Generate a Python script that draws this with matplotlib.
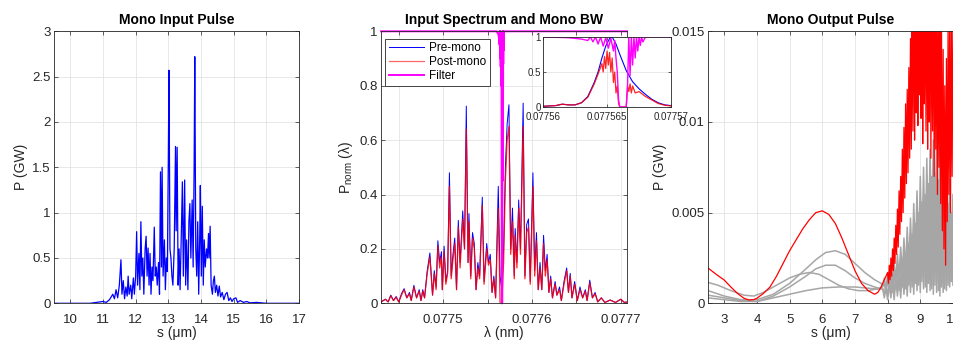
import matplotlib
matplotlib.use("Agg")
import matplotlib.pyplot as plt

plt.rcParams['font.family'] = ['Liberation Sans', 'DejaVu Sans']
plt.rcParams['mathtext.fontset'] = 'custom'
plt.rcParams['mathtext.rm'] = 'Liberation Sans'
plt.rcParams['mathtext.it'] = 'Liberation Sans:italic'

# ---- panel 1: mono input pulse (s in um, P in GW) ----
in_s = [9.5, 10.6, 10.8, 11.0, 11.1, 11.2, 11.3, 11.35, 11.4, 11.45, 11.5, 11.55, 11.58, 11.62,
        11.66, 11.7, 11.74, 11.77, 11.8, 11.85, 11.88, 11.93, 11.96, 12.0, 12.03, 12.06, 12.1,
        12.13, 12.16, 12.19, 12.22, 12.25, 12.29, 12.32, 12.35, 12.38, 12.41, 12.44, 12.47, 12.5,
        12.53, 12.57, 12.6, 12.63, 12.66, 12.7, 12.73, 12.76, 12.79, 12.81, 12.84, 12.88, 12.91,
        12.94, 12.97, 13.0, 13.02, 13.05, 13.08, 13.11, 13.14, 13.18, 13.22, 13.24, 13.27, 13.3,
        13.33, 13.36, 13.4, 13.43, 13.46, 13.5, 13.53, 13.56, 13.6, 13.63, 13.66, 13.69, 13.73,
        13.76, 13.79, 13.81, 13.84, 13.87, 13.9, 13.93, 13.96, 13.98, 14.01, 14.04, 14.07, 14.1,
        14.13, 14.17, 14.2, 14.23, 14.25, 14.28, 14.31, 14.35, 14.38, 14.41, 14.44, 14.48, 14.52,
        14.56, 14.6, 14.65, 14.7, 14.75, 14.8, 14.85, 14.9, 14.95, 15.0, 15.07, 15.12, 15.2, 15.3,
        15.4, 15.5, 15.7, 16.0, 17.0]
in_p = [0, 0, 0.01, 0.02, 0.01, 0.04, 0.1, 0.05, 0.15, 0.06, 0.2, 0.48, 0.1, 0.25,
        0.05, 0.18, 0.08, 0.3, 0.1, 0.2, 0.05, 0.28, 0.1, 0.3, 0.79, 0.2, 0.55,
        0.15, 0.9, 0.3, 0.5, 0.1, 0.6, 0.74, 0.3, 0.61, 0.2, 0.55, 0.1, 0.4,
        0.25, 0.84, 0.3, 0.4, 0.2, 0.45, 0.1, 1.45, 0.4, 1.5, 0.3, 0.7, 0.15,
        0.5, 0.35, 1.6, 2.57, 0.6, 0.5, 0.3, 0.2, 0.6, 1.73, 0.8, 1.72, 0.2,
        0.6, 0.15, 0.8, 1.34, 0.3, 1.36, 0.2, 0.7, 0.15, 0.9, 1.1, 0.5, 1.14,
        0.4, 1.5, 2.72, 0.6, 0.3, 0.9, 0.1, 0.7, 1.3, 0.3, 1.07, 0.2, 0.7,
        0.4, 0.6, 0.5, 0.77, 0.5, 0.85, 0.2, 0.1, 0.25, 0.3, 0.12, 0.2, 0.08,
        0.19, 0.07, 0.12, 0.04, 0.1, 0.12, 0.03, 0.06, 0.02, 0.05, 0.06, 0.01, 0.03, 0.01,
        0.02, 0.005, 0.01, 0, 0]

# ---- panel 2: spectrum (lambda in nm) ----
lam = [0.077430, 0.077435, 0.077438, 0.077441, 0.077444, 0.077447, 0.077450, 0.077453, 0.077456,
       0.077459, 0.077462, 0.077464, 0.077467, 0.077470, 0.077473, 0.077475, 0.077477, 0.077479,
       0.077482, 0.077485, 0.077488, 0.077490, 0.077492, 0.077494, 0.077496, 0.077498, 0.077499,
       0.077501, 0.077503, 0.077505, 0.077507, 0.077509, 0.077511, 0.077513, 0.077515, 0.077517,
       0.077519, 0.077522, 0.077524, 0.077526, 0.077528, 0.077529, 0.077531, 0.077533, 0.077535,
       0.077537, 0.077539, 0.077541, 0.077544, 0.077546, 0.077549, 0.077551, 0.077553, 0.077555,
       0.077557, 0.077559, 0.077562, 0.077564, 0.077566, 0.077568, 0.077570, 0.077572, 0.077574,
       0.077576, 0.077578, 0.077580, 0.077581, 0.077583, 0.077585, 0.077587, 0.077590, 0.077592,
       0.077594, 0.077596, 0.077598, 0.077601, 0.077603, 0.077605, 0.077607, 0.077609, 0.077611,
       0.077613, 0.077615, 0.077617, 0.077619, 0.077621, 0.077623, 0.077626, 0.077628, 0.077631,
       0.077633, 0.077636, 0.077639, 0.077641, 0.077643, 0.077645, 0.077648, 0.077651, 0.077654,
       0.077657, 0.077660, 0.077662, 0.077665, 0.077668, 0.077671, 0.077674, 0.077678, 0.077682,
       0.077688, 0.077694, 0.077700, 0.077704, 0.077707]
pre_mono = [0.005, 0.015, 0.005, 0.03, 0.01, 0.025, 0.005, 0.035, 0.054,
            0.02, 0.04, 0.01, 0.066, 0.02, 0.05, 0.01, 0.05, 0.02,
            0.12, 0.185, 0.03, 0.12, 0.06, 0.23, 0.15, 0.19, 0.05,
            0.21, 0.08, 0.12, 0.48, 0.10, 0.18, 0.24, 0.05, 0.305,
            0.15, 0.34, 0.2, 0.725, 0.15, 0.33, 0.10, 0.26, 0.22,
            0.05, 0.15, 0.1, 0.39, 0.08, 0.22, 0.15, 0.18, 0.04,
            0.1, 0.02, 0.43, 0.1, 0.05, 0.2, 0.5, 0.66, 0.73,
            0.2, 0.35, 0.1, 0.275, 0.15, 0.38, 0.2, 0.736, 0.1,
            0.29, 0.31, 0.08, 0.48, 0.12, 0.26, 0.05, 0.15, 0.05,
            0.25, 0.12, 0.18, 0.04, 0.1, 0.02, 0.08, 0.03, 0.06,
            0.01, 0.08, 0.13, 0.04, 0.11, 0.02, 0.08, 0.01, 0.06,
            0.02, 0.05, 0.01, 0.085, 0.02, 0.04, 0.005, 0.02, 0.003,
            0.012, 0.003, 0.015, 0.003, 0.005]
post_mono = [0.005, 0.015, 0.005, 0.028, 0.01, 0.022, 0.005, 0.03, 0.05,
             0.02, 0.035, 0.01, 0.06, 0.02, 0.045, 0.01, 0.045, 0.02,
             0.11, 0.17, 0.03, 0.11, 0.05, 0.21, 0.13, 0.17, 0.05,
             0.19, 0.07, 0.11, 0.43, 0.09, 0.16, 0.22, 0.05, 0.28,
             0.13, 0.31, 0.2, 0.64, 0.15, 0.30, 0.09, 0.24, 0.2,
             0.05, 0.13, 0.09, 0.36, 0.07, 0.2, 0.14, 0.16, 0.04,
             0.09, 0.02, 0.35, 0.0, 0.0, 0.15, 0.45, 0.60, 0.65,
             0.18, 0.3, 0.09, 0.25, 0.13, 0.35, 0.18, 0.65, 0.09,
             0.26, 0.28, 0.07, 0.43, 0.1, 0.23, 0.05, 0.13, 0.05,
             0.22, 0.1, 0.16, 0.04, 0.09, 0.02, 0.07, 0.03, 0.05,
             0.01, 0.07, 0.12, 0.04, 0.1, 0.02, 0.07, 0.01, 0.05,
             0.02, 0.045, 0.01, 0.075, 0.02, 0.035, 0.005, 0.02, 0.003,
             0.012, 0.003, 0.015, 0.003, 0.005]

# mono filter transmission
filt_lam = [0.077430, 0.077560, 0.077562, 0.077563, 0.0775635, 0.0775637, 0.0775639, 0.0775641,
            0.0775643, 0.0775645, 0.0775647, 0.0775649, 0.0775651, 0.0775653, 0.0775655, 0.0775656,
            0.0775657, 0.0775658, 0.0775659, 0.0775660, 0.0775665, 0.0775666, 0.0775667, 0.0775668,
            0.0775669, 0.0775670, 0.0775671, 0.0775672, 0.0775673, 0.0775674, 0.0775675, 0.0775676,
            0.0775677, 0.0775678, 0.0775680, 0.077707]
filt_t = [1, 1, 0.99, 0.97, 0.95, 1.0, 0.93, 1.0,
          0.9, 1.0, 0.87, 0.99, 0.84, 0.98, 0.8, 0.95,
          0.7, 0.5, 0.1, 0.0, 0.0, 0.3, 1.0, 0.45,
          1.0, 0.6, 1.0, 0.7, 1.0, 0.8, 1.0, 0.88,
          1.0, 0.93, 1.0, 1]

# zoomed spectral line for the inset
ins_lam = [0.077560, 0.077561, 0.0775615, 0.077562, 0.0775625, 0.077563, 0.0775635, 0.077564,
           0.0775643, 0.0775646, 0.0775649, 0.0775652, 0.0775654, 0.0775657, 0.077566, 0.0775665,
           0.077567, 0.0775675, 0.077568, 0.0775685, 0.077569, 0.0775695, 0.077570]
ins_pre = [0.01, 0.02, 0.04, 0.03, 0.03, 0.06, 0.15, 0.35,
           0.5, 0.7, 0.87, 0.98, 1.0, 0.9, 0.75, 0.52,
           0.36, 0.26, 0.18, 0.11, 0.06, 0.03, 0.02]
ins_post_lam = [0.077560, 0.077561, 0.0775615, 0.077562, 0.0775625, 0.077563, 0.0775635, 0.077564,
                0.0775643, 0.0775646, 0.0775647, 0.0775648, 0.0775649, 0.077565, 0.0775651,
                0.0775652, 0.0775653, 0.0775654, 0.0775655, 0.0775656, 0.0775657, 0.0775658,
                0.0775659, 0.077566, 0.0775665, 0.0775666, 0.0775667, 0.0775668, 0.0775669,
                0.077567, 0.0775672, 0.0775675, 0.077568, 0.0775685, 0.077569, 0.0775695, 0.07757]
ins_post = [0.01, 0.02, 0.04, 0.03, 0.03, 0.06, 0.14, 0.33,
            0.47, 0.62, 0.5, 0.72, 0.55, 0.8, 0.6,
            0.78, 0.5, 0.7, 0.35, 0.5, 0.2, 0.3,
            0.05, 0.0, 0.0, 0.3, 0.22, 0.33, 0.2,
            0.3, 0.2, 0.22, 0.15, 0.1, 0.05, 0.025, 0.015]

# ---- panel 3: mono output pulse ----
red_s = [2.5, 2.75, 3.0, 3.2, 3.4, 3.6, 3.75, 3.9, 4.0, 4.2, 4.4, 4.6, 4.8, 5.0, 5.2, 5.4, 5.6,
         5.8, 6.0, 6.2, 6.4, 6.6, 6.8, 7.0, 7.2, 7.4, 7.5, 7.6, 7.7, 7.8, 7.9,
         8.000, 8.025, 8.050, 8.075, 8.100, 8.125, 8.150, 8.175, 8.200, 8.225, 8.250, 8.275,
         8.300, 8.325, 8.350, 8.375, 8.400, 8.425, 8.450, 8.475, 8.500, 8.525, 8.550, 8.575,
         8.600, 8.625, 8.650, 8.675, 8.700, 8.725, 8.750, 8.775, 8.800, 8.825, 8.850, 8.875,
         8.900, 8.925, 8.950, 8.975, 9.000, 9.025, 9.050, 9.075, 9.100, 9.125, 9.150, 9.175,
         9.200, 9.225, 9.250, 9.275, 9.300, 9.325, 9.350, 9.375, 9.400, 9.425, 9.450, 9.475,
         9.500, 9.525, 9.550, 9.575, 9.600, 9.625, 9.650, 9.675, 9.700, 9.725, 9.750, 9.775,
         9.800, 9.825, 9.850, 9.875, 9.900, 9.925, 9.950, 9.975, 10.000]
red_p = [0.00195, 0.0016, 0.00128, 0.0009, 0.00055, 0.00028, 0.00018, 0.0002, 0.00028, 0.00055,
         0.0009, 0.0015, 0.0022, 0.0029, 0.0035, 0.0041, 0.0046, 0.0050, 0.0051, 0.0049, 0.0044,
         0.0036, 0.0027, 0.0018, 0.0011, 0.0007, 0.0006, 0.0005, 0.0006, 0.0009, 0.0013,
         0.0017, 0.0011, 0.0021, 0.0013, 0.0025, 0.0015, 0.0030, 0.0018, 0.0036, 0.0022, 0.0043, 0.0027,
         0.0052, 0.0031, 0.0062, 0.0038, 0.0070, 0.0045, 0.0085, 0.0050, 0.0097, 0.0058, 0.0110, 0.0066,
         0.0118, 0.0072, 0.0130, 0.0080, 0.0146, 0.0085, 0.0175, 0.0095, 0.0200, 0.0090, 0.0190, 0.0105,
         0.0210, 0.0098, 0.0185, 0.0115, 0.0200, 0.0102, 0.0190, 0.0088, 0.0210, 0.0110, 0.0180, 0.0095,
         0.0200, 0.0085, 0.0190, 0.0100, 0.0205, 0.0080, 0.0180, 0.0095, 0.0195, 0.0070, 0.0170, 0.0085,
         0.0185, 0.0060, 0.0160, 0.0075, 0.0175, 0.0055, 0.0150, 0.0040, 0.0140, 0.0030, 0.0120, 0.0021,
         0.0135, 0.0045, 0.0150, 0.0060, 0.0165, 0.0050, 0.0155, 0.0070, 0.0160]

tail_s = [7.85, 7.90, 7.95, 8.00, 8.05, 8.10, 8.15, 8.20, 8.25, 8.30, 8.35, 8.40, 8.45, 8.50, 8.55,
          8.60, 8.65, 8.70, 8.75, 8.80, 8.85, 8.90, 8.95, 9.00, 9.05, 9.10, 9.15, 9.20, 9.25, 9.30,
          9.35, 9.40, 9.45, 9.50, 9.55, 9.60, 9.65, 9.70, 9.75, 9.80, 9.85, 9.90, 9.95, 10.00]

g1_s = [2.5, 3.0, 3.5, 4.0, 4.5, 5.0, 5.5, 5.8, 6.1, 6.4, 6.7, 7.0, 7.3, 7.6, 7.8]
g1_p = [0.0007, 0.0004, 0.0002, 0.0002, 0.0005, 0.0011, 0.0019, 0.0024, 0.0028, 0.0029, 0.0027,
        0.0022, 0.0017, 0.0013, 0.0011]
g1_tail = [0.0010, 0.0014, 0.0008, 0.0016, 0.0009, 0.0019, 0.0011, 0.0023, 0.0012, 0.0027, 0.0014,
           0.0031, 0.0016, 0.0036, 0.0018, 0.0042, 0.0020, 0.0047, 0.0022, 0.0055, 0.0025, 0.0062,
           0.0024, 0.0070, 0.0028, 0.0075, 0.0026, 0.0080, 0.0030, 0.0085, 0.0027, 0.0090, 0.0025,
           0.0094, 0.0030, 0.0088, 0.0024, 0.0080, 0.0022, 0.0072, 0.0020, 0.0068, 0.0025, 0.0060]

g2_s = [2.5, 3.0, 3.5, 4.0, 4.5, 5.0, 5.5, 5.8, 6.1, 6.4, 6.7, 7.0, 7.3, 7.6, 7.8]
g2_p = [0.00045, 0.0003, 0.00015, 0.0001, 0.0004, 0.0009, 0.0015, 0.0019, 0.0021, 0.0021, 0.0018,
        0.0014, 0.0011, 0.0009, 0.0008]
g2_tail = [0.0008, 0.0005, 0.0010, 0.0004, 0.0012, 0.0006, 0.0014, 0.0005, 0.0017, 0.0007, 0.0020,
           0.0008, 0.0024, 0.0009, 0.0028, 0.0010, 0.0033, 0.0012, 0.0038, 0.0011, 0.0044, 0.0013,
           0.0050, 0.0012, 0.0056, 0.0014, 0.0060, 0.0011, 0.0066, 0.0013, 0.0070, 0.0010, 0.0072,
           0.0012, 0.0068, 0.0009, 0.0063, 0.0011, 0.0058, 0.0010, 0.0055, 0.0012, 0.0050, 0.0015]

g3_s = [2.5, 2.8, 3.2, 3.6, 3.9, 4.2, 4.6, 5.0, 5.3, 5.6, 5.9, 6.2, 6.5, 6.8, 7.1, 7.4, 7.7]
g3_p = [0.00115, 0.0010, 0.0007, 0.00045, 0.0004, 0.0006, 0.0010, 0.0014, 0.0016, 0.0017, 0.0016,
        0.0013, 0.0010, 0.0008, 0.0007, 0.0007, 0.0008]
g3_tail = [0.0009, 0.0011, 0.0006, 0.0013, 0.0007, 0.0015, 0.0006, 0.0018, 0.0008, 0.0021, 0.0007,
           0.0025, 0.0009, 0.0029, 0.0008, 0.0033, 0.0010, 0.0038, 0.0009, 0.0042, 0.0011, 0.0047,
           0.0010, 0.0053, 0.0012, 0.0058, 0.0009, 0.0063, 0.0011, 0.0068, 0.0008, 0.0074, 0.0010,
           0.0078, 0.0007, 0.0072, 0.0009, 0.0066, 0.0008, 0.0061, 0.0010, 0.0057, 0.0012, 0.0052]

g4_s = [2.5, 3.0, 3.5, 4.0, 4.5, 5.0, 5.5, 6.0, 6.5, 7.0, 7.3, 7.6]
g4_p = [0.0003, 0.0002, 0.0001, 0.0001, 0.0003, 0.0005, 0.0007, 0.00085, 0.0009, 0.0009, 0.00085,
        0.0008]
g4_tail = [0.0008, 0.0003, 0.0009, 0.0002, 0.0010, 0.0003, 0.0012, 0.0002, 0.0013, 0.0004, 0.0015,
           0.0003, 0.0017, 0.0005, 0.0020, 0.0004, 0.0024, 0.0006, 0.0028, 0.0005, 0.0033, 0.0007,
           0.0038, 0.0006, 0.0044, 0.0008, 0.0049, 0.0006, 0.0054, 0.0007, 0.0059, 0.0005, 0.0064,
           0.0006, 0.0060, 0.0004, 0.0055, 0.0006, 0.0050, 0.0007, 0.0046, 0.0009, 0.0043, 0.0010]

# tick labels
ticks1 = [10, 11, 12, 13, 14, 15, 16, 17]
yticks1 = [0, 0.5, 1, 1.5, 2, 2.5, 3]
yticklabels1 = ['0', '0.5', '1', '1.5', '2', '2.5', '3']
ticks2 = [0.07745, 0.0775, 0.07755, 0.0776, 0.07765, 0.0777]
ticklabels2 = ['', '0.0775', '', '0.0776', '', '0.0777']
yticks2 = [0, 0.2, 0.4, 0.6, 0.8, 1]
yticklabels2 = ['0', '0.2', '0.4', '0.6', '0.8', '1']
ticks_in = [0.07756, 0.077565, 0.07757]
ticklabels_in = ['0.07756', '0.077565', '0.07757']
ticks3 = [3, 4, 5, 6, 7, 8, 9, 10]
yticks3 = [0, 0.005, 0.01, 0.015]
yticklabels3 = ['0', '0.005', '0.01', '0.015']

DARK = '0.15'
TICK_FS = 9.5
LABEL_FS = 10
TITLE_FS = 10


def style(ax, fs=TICK_FS, xpad=8, ypad=2.5):
    for sp in ax.spines.values():
        sp.set_color(DARK)
        sp.set_linewidth(0.6)
    ax.tick_params(direction='in', length=3, width=0.5, top=True, right=True,
                   labelsize=fs, colors=DARK)
    ax.tick_params(axis='x', pad=xpad)
    ax.tick_params(axis='y', pad=ypad)
    ax.grid(True, color='0.87', linewidth=0.5)
    ax.set_axisbelow(True)


fig = plt.figure(figsize=(9.54, 3.44), dpi=100)

# panel 1
ax1 = fig.add_axes([0.0566, 0.1183, 0.2568, 0.7907])
ax1.plot(in_s, in_p, color=(0, 0, 1), lw=0.9)
ax1.set_xlim(9.5, 17)
ax1.set_ylim(0, 3)
ax1.set_xticks(ticks1)
ax1.set_yticks(yticks1)
ax1.set_yticklabels(yticklabels1)
style(ax1)
ax1.set_title('Mono Input Pulse', fontsize=TITLE_FS, fontweight='bold', pad=5)
ax1.set_xlabel('s (μm)', fontsize=LABEL_FS, color=DARK, labelpad=0)
ax1.set_ylabel('P (GW)', fontsize=LABEL_FS, color=DARK, labelpad=3)

# panel 2
ax2 = fig.add_axes([0.3994, 0.1183, 0.2579, 0.7907])
ax2.plot(lam, pre_mono, color=(0, 0, 1), lw=0.7, label='Pre-mono')
ax2.plot(lam, post_mono, color=(1, 0, 0), lw=0.9, alpha=0.85, label='Post-mono')
ax2.plot(filt_lam, filt_t, color=(1, 0, 1), lw=1.4, label='Filter', clip_on=False)
ax2.set_xlim(0.07743, 0.077707)
ax2.set_ylim(0, 1)
ax2.set_xticks(ticks2)
ax2.set_xticklabels(ticklabels2)
ax2.set_yticks(yticks2)
ax2.set_yticklabels(yticklabels2)
style(ax2)
ax2.set_title('Input Spectrum and Mono BW', fontsize=TITLE_FS, fontweight='bold', pad=5)
ax2.set_xlabel('λ (nm)', fontsize=LABEL_FS, color=DARK, labelpad=0)
ax2.set_ylabel(r'P$_{\rm norm}$ (λ)', fontsize=LABEL_FS, color=DARK, labelpad=3)
leg = ax2.legend(loc='upper left', bbox_to_anchor=(0.018, 0.972), borderaxespad=0,
                 fontsize=8.5, handlelength=3.0, handletextpad=0.4, labelspacing=0.15,
                 borderpad=0.3, fancybox=False, framealpha=1)
leg.get_frame().set_edgecolor(DARK)
leg.get_frame().set_linewidth(0.6)
leg.get_lines()[1].set_alpha(0.6)

# inset
axi = fig.add_axes([0.5692, 0.689, 0.1342, 0.2035])
axi.plot(ins_lam, ins_pre, color=(0, 0, 1), lw=0.8)
axi.plot(ins_post_lam, ins_post, color=(1, 0, 0), lw=0.9, alpha=0.85)
axi.plot(filt_lam, filt_t, color=(1, 0, 1), lw=1.0)
axi.set_xlim(0.07756, 0.07757)
axi.set_ylim(0, 1)
axi.set_xticks(ticks_in)
axi.set_xticklabels(ticklabels_in)
axi.set_yticks([0, 0.5, 1])
axi.set_yticklabels(['0', '0.5', '1'])
style(axi, fs=7, xpad=3.5, ypad=1.5)
axi.tick_params(length=2)

# panel 3
ax3 = fig.add_axes([0.7421, 0.1183, 0.2568, 0.7907])
gray = (0.65, 0.65, 0.65)
for gs, gp, gt in [(g1_s, g1_p, g1_tail), (g2_s, g2_p, g2_tail),
                   (g3_s, g3_p, g3_tail), (g4_s, g4_p, g4_tail)]:
    ax3.plot(gs + tail_s, gp + gt, color=gray, lw=1.1)
ax3.plot(red_s, red_p, color=(1, 0, 0), lw=0.9)
ax3.set_xlim(2.5, 10)
ax3.set_ylim(0, 0.015)
ax3.set_xticks(ticks3)
ax3.set_yticks(yticks3)
ax3.set_yticklabels(yticklabels3)
style(ax3)
ax3.set_title('Mono Output Pulse', fontsize=TITLE_FS, fontweight='bold', pad=5)
ax3.set_xlabel('s (μm)', fontsize=LABEL_FS, color=DARK, labelpad=0)
ax3.set_ylabel('P (GW)', fontsize=LABEL_FS, color=DARK, labelpad=3)

fig.savefig('out.png', dpi=100)
